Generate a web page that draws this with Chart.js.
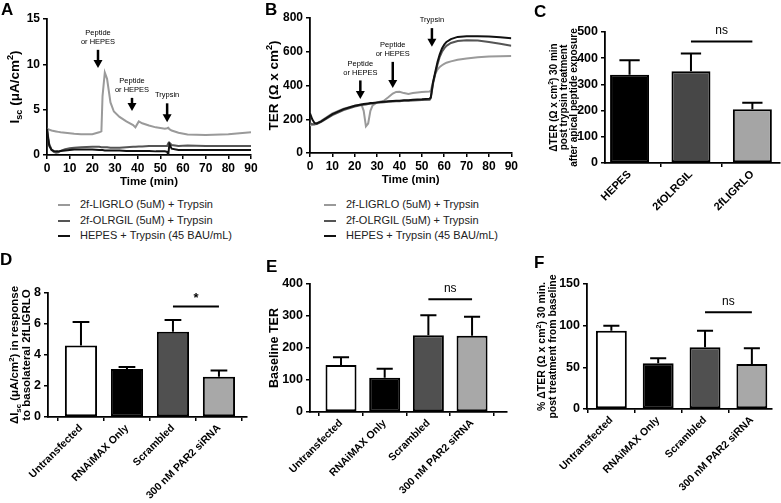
<!DOCTYPE html>
<html>
<head>
<meta charset="utf-8">
<script src="https://cdn.jsdelivr.net/npm/chart.js@4.4.1/dist/chart.umd.min.js"></script>
<style>
  body { margin: 0; background: #fff; width: 781px; height: 503px; position: relative; overflow: hidden; font-family: 'Liberation Sans', Arial, sans-serif; }
  canvas { position: absolute; }
  .legend { position: absolute; font-size: 11px; color: #222; }
  .legend div { height: 15.5px; line-height: 15.5px; white-space: nowrap; }
  .legend span { display: inline-block; width: 12px; height: 2px; vertical-align: middle; margin-right: 10px; }
</style>
</head>
<body>
<canvas id="cA" width="260" height="195" style="left:0;top:0"></canvas>
<canvas id="cB" width="260" height="195" style="left:260px;top:0"></canvas>
<canvas id="cC" width="261" height="250" style="left:520px;top:0"></canvas>
<canvas id="cD" width="260" height="253" style="left:0;top:250px"></canvas>
<canvas id="cE" width="260" height="253" style="left:260px;top:250px"></canvas>
<canvas id="cF" width="261" height="253" style="left:520px;top:250px"></canvas>
<div class="legend" id="legA" style="left:58px;top:197px"></div>
<div class="legend" id="legB" style="left:324px;top:197px"></div>
<script>
// A: short-circuit current over time
var timeA = [0, 0.5, 1, 2, 3, 4, 5, 6, 8, 10, 12, 15, 20, 23, 24, 24.5, 25.5, 26.5, 28, 29.5, 32, 35, 38, 39, 40.5, 42, 45, 48, 52, 53, 53.5, 54, 55, 58, 62, 70, 80, 90];
var iscLIGRLO = [2.9, 2.85, 2.8, 2.7, 2.65, 2.6, 2.55, 2.5, 2.45, 2.4, 2.35, 2.3, 2.3, 2.5, 2.6, 6.5, 9.1, 8.4, 5.8, 4.8, 4.2, 3.7, 3.3, 3.05, 3.7, 3.5, 3.25, 3.05, 2.9, 2.95, 3.0, 2.85, 2.7, 2.45, 2.25, 2.2, 2.3, 2.5];
var iscOLRGIL = [2.9, 2.0, 1.2, 0.6, 0.35, 0.25, 0.3, 0.45, 0.65, 0.75, 0.8, 0.85, 0.9, 0.9, 0.85, 0.85, 0.85, 0.85, 0.8, 0.8, 0.8, 0.85, 0.9, 0.9, 0.95, 0.95, 1.0, 1.0, 1.0, 1.0, 1.3, 1.35, 1.1, 1.0, 1.05, 1.0, 1.0, 1.0];
var iscHEPES = [2.9, 1.8, 1.0, 0.55, 0.45, 0.4, 0.4, 0.45, 0.5, 0.55, 0.6, 0.6, 0.6, 0.55, 0.55, 0.55, 0.5, 0.5, 0.5, 0.5, 0.5, 0.45, 0.45, 0.45, 0.45, 0.45, 0.45, 0.4, 0.4, 0.35, 0.05, 1.2, 0.7, 0.55, 0.55, 0.55, 0.55, 0.55];

// B: TER over time
var timeB = [0, 1, 2, 3, 5, 10, 15, 20, 23, 24, 25, 26, 27, 28, 30, 33, 35, 37, 38.5, 40, 42, 44, 46, 50, 53.5, 54, 55, 56, 57, 58, 59, 60, 61, 63, 66, 70, 75, 80, 85, 90];
var terLIGRLO = [165, 166, 168, 175, 190, 235, 262, 280, 288, 250, 158, 175, 250, 282, 300, 310, 330, 352, 362, 363, 355, 350, 355, 362, 364, 370, 420, 470, 495, 510, 520, 528, 535, 543, 552, 560, 567, 572, 574, 575];
var terOLRGIL = [175, 172, 170, 172, 185, 225, 255, 275, 284, 286, 288, 290, 292, 294, 297, 301, 303, 305, 306, 307, 309, 310, 311, 314, 316, 325, 410, 470, 525, 570, 600, 620, 635, 652, 664, 668, 666, 658, 648, 636];
var terHEPES = [235, 200, 178, 175, 188, 230, 260, 280, 288, 290, 292, 294, 296, 297, 300, 304, 306, 308, 309, 310, 312, 313, 315, 318, 322, 330, 420, 480, 540, 585, 620, 642, 658, 675, 688, 692, 692, 690, 686, 680];

var seriesNames = ['2f-LIGRLO (5uM) + Trypsin', '2f-OLRGIL (5uM) + Trypsin', 'HEPES + Trypsin (45 BAU/mL)'];
var lineColors = ['#9a9a9a', '#555555', '#111111'];

// C: delta TER after trypsin
var peptides = ['HEPES', '2fOLRGIL', '2fLIGRLO'];
var dTer = [337, 350, 205];
var dTerErr = [55, 68, 25];

// D-F: siRNA groups
var groups = ['Untransfected', 'RNAiMAX Only', 'Scrambled', '300 nM PAR2 siRNA'];
var dIsc = [4.61, 3.09, 5.5, 2.59];
var dIscErr = [1.52, 0.13, 0.76, 0.41];
var baseTer = [147, 107, 240, 238];
var baseTerErr = [24, 28, 62, 60];
var pctTer = [94, 55, 74, 54];
var pctTerErr = [6, 6, 20, 19];

// y axis ticks
var yTicksA = [0, 5, 10, 15];
var yTicksB = [0, 200, 400, 600, 800];
var yTicksC = [0, 100, 200, 300, 400, 500];
var yTicksD = [0, 2, 4, 6, 8];
var yTicksE = [0, 100, 200, 300, 400];
var yTicksF = [0, 50, 100, 150];

var FONT = "'Liberation Sans', Arial, Helvetica, sans-serif";
Chart.defaults.font.family = FONT;
Chart.defaults.color = '#000';
Chart.defaults.animation = false;
Chart.defaults.plugins.legend.display = false;
Chart.defaults.plugins.tooltip.enabled = false;

// text with _{sub} and ^{sup}
function parseRich(str) {
  var out = [], re = /([_^])\{([^}]*)\}/g, last = 0, m;
  while ((m = re.exec(str))) {
    if (m.index > last) out.push({ t: str.slice(last, m.index), k: '' });
    out.push({ t: m[2], k: m[1] });
    last = re.lastIndex;
  }
  if (last < str.length) out.push({ t: str.slice(last), k: '' });
  return out;
}
function drawRich(ctx, str, cx, cy, size, weight) {
  var segs = parseRich(str), w = 0;
  segs.forEach(function (s) {
    s.size = s.k ? size * 0.68 : size;
    ctx.font = weight + ' ' + s.size + 'px ' + FONT;
    s.w = ctx.measureText(s.t).width;
    w += s.w;
  });
  var x = cx - w / 2, base = cy + size * 0.36;
  ctx.textAlign = 'left';
  ctx.textBaseline = 'alphabetic';
  segs.forEach(function (s) {
    ctx.font = weight + ' ' + s.size + 'px ' + FONT;
    var dy = s.k === '_' ? size * 0.22 : (s.k === '^' ? -size * 0.4 : 0);
    ctx.fillText(s.t, x, base + dy);
    x += s.w;
  });
}

var decor = {
  id: 'decor',
  afterDatasetsDraw: function (chart, args, o) {
    var ctx = chart.ctx, xs = chart.scales.x, ys = chart.scales.y;
    ctx.save();
    ctx.fillStyle = '#000';
    ctx.strokeStyle = '#000';
    if (o.errors) {
      var meta = chart.getDatasetMeta(0), vals = chart.data.datasets[0].data;
      ctx.lineWidth = 2;
      meta.data.forEach(function (bar, i) {
        var top = ys.getPixelForValue(vals[i].y + o.errors[i]);
        var half = bar.width * 0.26;
        ctx.beginPath();
        ctx.moveTo(bar.x, bar.y);
        ctx.lineTo(bar.x, top);
        ctx.moveTo(bar.x - half, top);
        ctx.lineTo(bar.x + half, top);
        ctx.stroke();
      });
    }
    (o.sig || []).forEach(function (s) {
      var y = ys.getPixelForValue(s.y), x1 = xs.getPixelForValue(s.from), x2 = xs.getPixelForValue(s.to);
      ctx.lineWidth = 2;
      ctx.beginPath();
      ctx.moveTo(x1, y);
      ctx.lineTo(x2, y);
      ctx.stroke();
      ctx.font = (s.label === '*' ? 'bold 13px ' : '12px ') + FONT;
      ctx.textAlign = 'center';
      ctx.textBaseline = 'alphabetic';
      ctx.fillText(s.label, (x1 + x2) / 2, y - (s.label === '*' ? 4 : 7));
    });
    (o.arrows || []).forEach(function (ar) {
      var x = xs.getPixelForValue(ar.t), y0 = ys.getPixelForValue(ar.tail), y1 = ys.getPixelForValue(ar.tip);
      ctx.lineWidth = 2.5;
      ctx.beginPath();
      ctx.moveTo(x, y0);
      ctx.lineTo(x, y1 - 6);
      ctx.stroke();
      ctx.beginPath();
      ctx.moveTo(x - 4.5, y1 - 8);
      ctx.lineTo(x + 4.5, y1 - 8);
      ctx.lineTo(x, y1);
      ctx.closePath();
      ctx.fill();
      ctx.font = '7.5px ' + FONT;
      ctx.textAlign = 'center';
      ctx.textBaseline = 'middle';
      ar.lines.forEach(function (l, i) {
        ctx.fillText(l, x, y0 - 8 - (ar.lines.length - 1 - i) * 8.5);
      });
    });
    ctx.restore();
  },
  afterDraw: function (chart, args, o) {
    var ctx = chart.ctx, a = chart.chartArea;
    ctx.save();
    ctx.fillStyle = '#000';
    ctx.font = 'bold 17px ' + FONT;
    ctx.textAlign = 'left';
    ctx.textBaseline = 'alphabetic';
    ctx.fillText(o.letter[0], o.letter[1], o.letter[2]);
    if (o.xTitle) {
      drawRich(ctx, o.xTitle, (a.left + a.right) / 2, o.xTitleY, 11.5, 'bold');
    }
    ctx.translate(0, (a.top + a.bottom) / 2);
    ctx.rotate(-Math.PI / 2);
    o.yTitle.forEach(function (line, i) {
      drawRich(ctx, line, 0, o.yTitleX + i * o.yGap, o.ySize, 'bold');
    });
    ctx.restore();
  }
};

function axisStyle() {
  return {
    grid: { drawOnChartArea: false, tickLength: 4, color: '#000', lineWidth: 1.5 },
    border: { color: '#000', width: 1.8 }
  };
}

function lineChart(id, area, time, series, yTicks, deco) {
  var cv = document.getElementById(id), W = cv.width, H = cv.height;
  var x = axisStyle(), y = axisStyle();
  x.type = 'linear'; x.min = 0; x.max = 90;
  x.ticks = { stepSize: 10, maxRotation: 0, padding: 2, font: { size: 12, weight: 'bold' } };
  x.afterFit = function (s) { s.height = H - area.b; };
  y.min = yTicks[0]; y.max = yTicks[yTicks.length - 1];
  y.ticks = { stepSize: yTicks[1] - yTicks[0], padding: 3, font: { size: 12, weight: 'bold' } };
  y.afterFit = function (s) { s.width = area.l; };
  return new Chart(cv, {
    type: 'line',
    data: {
      datasets: series.map(function (vals, i) {
        return {
          data: vals.map(function (v, j) { return { x: time[j], y: v }; }),
          borderColor: lineColors[i], borderWidth: 2, pointRadius: 0, tension: 0,
          fill: false, order: series.length - i
        };
      })
    },
    options: {
      responsive: false, devicePixelRatio: 1,
      layout: { padding: { left: 0, top: area.t, right: W - area.r, bottom: 0 } },
      scales: { x: x, y: y },
      plugins: { decor: deco }
    },
    plugins: [decor]
  });
}

function barChart(id, area, cats, means, errs, colors, yTicks, xRange, barPct, labelSize, deco) {
  var cv = document.getElementById(id), W = cv.width, H = cv.height;
  var x = axisStyle(), y = axisStyle();
  x.type = 'linear'; x.min = xRange[0]; x.max = xRange[1]; x.offset = false;
  x.afterBuildTicks = function (s) { s.ticks = cats.map(function (c, i) { return { value: i }; }); };
  x.ticks = {
    autoSkip: false, minRotation: 45, maxRotation: 45, padding: 1,
    font: { size: labelSize, weight: 'bold' },
    callback: function (v) { return cats[v]; }
  };
  x.afterFit = function (s) { s.height = H - area.b; };
  y.min = yTicks[0]; y.max = yTicks[yTicks.length - 1];
  y.ticks = { stepSize: yTicks[1] - yTicks[0], padding: 3, font: { size: 12.5, weight: 'bold' } };
  y.afterFit = function (s) { s.width = area.l; };
  deco.errors = errs;
  return new Chart(cv, {
    type: 'bar',
    data: {
      datasets: [{
        data: means.map(function (v, i) { return { x: i, y: v }; }),
        backgroundColor: colors, borderColor: '#000', borderWidth: 2,
        borderSkipped: false, barPercentage: barPct, categoryPercentage: 1
      }]
    },
    options: {
      responsive: false, devicePixelRatio: 1,
      layout: { padding: { left: 0, top: area.t, right: W - area.r, bottom: 0 } },
      scales: { x: x, y: y },
      plugins: { decor: deco }
    },
    plugins: [decor]
  });
}

lineChart('cA', { l: 47, t: 19, r: 251, b: 155 }, timeA, [iscLIGRLO, iscOLRGIL, iscHEPES], yTicksA, {
  letter: ['A', 1, 15], xTitle: 'Time (min)', xTitleY: 181,
  yTitle: ['I_{sc} (\u03bcA/cm^{2})'], yTitleX: 14, yGap: 0, ySize: 13.5,
  arrows: [
    { t: 22.5, tail: 11.6, tip: 9.6, lines: ['Peptide', 'or HEPES'] },
    { t: 37.5, tail: 6.3, tip: 4.85, lines: ['Peptide', 'or HEPES'] },
    { t: 53, tail: 5.7, tip: 3.6, lines: ['Trypsin'] }
  ]
});

lineChart('cB', { l: 50, t: 18, r: 252, b: 153 }, timeB, [terLIGRLO, terOLRGIL, terHEPES], yTicksB, {
  letter: ['B', 5, 15], xTitle: 'Time (min)', xTitleY: 179,
  yTitle: ['TER (\u03a9 x cm^{2})'], yTitleX: 13, yGap: 0, ySize: 13.5,
  arrows: [
    { t: 22.5, tail: 430, tip: 320, lines: ['Peptide', 'or HEPES'] },
    { t: 37, tail: 540, tip: 385, lines: ['Peptide', 'or HEPES'] },
    { t: 54.5, tail: 740, tip: 630, lines: ['Trypsin'] }
  ]
});

barChart('cC', { l: 85, t: 32, r: 260, b: 163 }, peptides, dTer, dTerErr, ['#000000', '#474747', '#a5a5a5'],
  yTicksC, [-0.4, 2.45], 0.635, 11, {
    letter: ['C', 14, 17],
    yTitle: ['\u0394TER (\u03a9 x cm^{2}) 30 min', 'post trypsin treatment', 'after apical peptide exposure'],
    yTitleX: 33, yGap: 10, ySize: 10,
    sig: [{ from: 1, to: 2, y: 464, label: 'ns' }]
  });

barChart('cD', { l: 48, t: 43, r: 247, b: 167 }, groups, dIsc, dIscErr, ['#ffffff', '#000000', '#505050', '#a8a8a8'],
  yTicksD, [-0.717, 3.61], 0.7, 10.5, {
    letter: ['D', 0, 15],
    yTitle: ['\u0394I_{sc} (\u03bcA/cm^{2}) in response', 'to basolateral 2fLIGRLO'],
    yTitleX: 14, yGap: 12, ySize: 11.5,
    sig: [{ from: 2, to: 3, y: 7.13, label: '*' }]
  });

barChart('cE', { l: 50, t: 34, r: 247, b: 162 }, groups, baseTer, baseTerErr, ['#ffffff', '#000000', '#505050', '#a8a8a8'],
  yTicksE, [-0.71, 3.8], 0.71, 10.5, {
    letter: ['E', 6, 22],
    yTitle: ['Baseline TER'], yTitleX: 13, yGap: 0, ySize: 12.5,
    sig: [{ from: 2, to: 3, y: 352, label: 'ns' }]
  });

barChart('cF', { l: 67, t: 34, r: 252, b: 159 }, groups, pctTer, pctTerErr, ['#ffffff', '#000000', '#505050', '#a8a8a8'],
  yTicksF, [-0.52, 3.43], 0.66, 10.5, {
    letter: ['F', 14, 18],
    yTitle: ['% \u0394TER (\u03a9 x cm^{2}) 30 min.', 'post treatment from baseline'],
    yTitleX: 21, yGap: 11, ySize: 10.5,
    sig: [{ from: 2, to: 3, y: 116, label: 'ns' }]
  });

// legends under A and B
['legA', 'legB'].forEach(function (id) {
  var el = document.getElementById(id);
  seriesNames.forEach(function (name, i) {
    var row = document.createElement('div');
    var sw = document.createElement('span');
    sw.style.background = lineColors[i];
    row.appendChild(sw);
    row.appendChild(document.createTextNode(name));
    el.appendChild(row);
  });
});
</script>
</body>
</html>
